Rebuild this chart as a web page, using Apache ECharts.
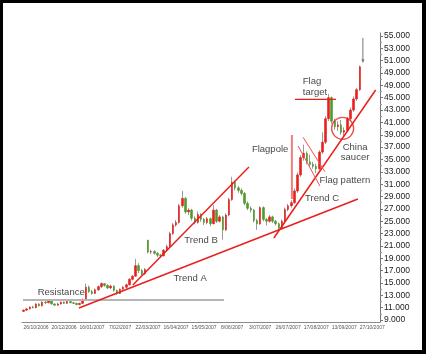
<!DOCTYPE html>
<html>
<head>
<meta charset="utf-8">
<script src="https://cdn.jsdelivr.net/npm/echarts@6/dist/echarts.min.js"></script>
<style>
  html, body { margin: 0; padding: 0; background: #fff; }
  #chart { position: absolute; left: 0; top: 0; width: 426px; height: 354px; }
  #frame { position: absolute; left: 0; top: 0; width: 426px; height: 354px; box-sizing: border-box;
           border: 3px solid #000; border-right-width: 4px; border-bottom-width: 4px; pointer-events: none; }
</style>
</head>
<body>
<div id="chart"></div>
<div id="frame"></div>
<script>
// price data in thousands, one candle per slot
const opens  = [10.4,10.6,10.8,11.1,11.0,11.6,11.3,11.9,11.8,12.1,11.6,11.4,11.6,11.9,11.7,12.0,11.8,11.7,11.5,11.7,
                12.3,14.3,13.6,13.3,13.9,14.4,14.9,14.6,14.2,14.5,13.8,13.3,14.0,14.3,14.7,15.6,16.1,17.8,17.0,16.5,
                21.9,20.0,20.1,19.8,19.5,19.4,20.3,20.9,23.0,24.4,24.8,27.5,28.7,26.5,26.8,25.5,24.8,26.1,25.3,24.8,
                25.4,24.6,26.8,25.0,25.7,23.6,26.0,28.5,31.3,30.4,30.0,29.5,27.9,27.1,26.8,25.1,24.6,27.2,25.3,25.0,
                25.7,25.0,24.6,23.9,25.0,26.9,27.5,28.0,29.9,32.5,35.3,36.0,34.6,34.2,33.9,33.5,36.2,37.8,41.6,45.0,
                41.2,40.3,40.6,39.4,39.7,41.6,43.0,44.8,46.3]
const closes = [10.6,10.8,11.1,11.0,11.6,11.3,11.9,11.8,12.1,11.6,11.4,11.6,11.9,11.7,12.0,11.8,11.7,11.5,11.7,12.3,
                14.3,13.6,13.3,13.9,14.4,14.9,14.6,14.2,14.5,13.8,13.3,14.0,14.3,14.7,15.6,16.1,17.8,17.0,16.5,17.2,
                20.0,20.1,19.8,19.5,19.4,20.3,20.9,23.0,24.4,24.8,27.5,28.7,26.5,26.8,25.5,24.8,26.1,25.3,24.8,25.4,
                24.6,26.8,25.0,25.7,23.6,26.0,28.5,31.3,30.4,30.0,29.5,27.9,27.1,26.8,25.1,24.6,27.2,25.3,25.0,25.7,
                25.0,24.6,23.9,25.0,26.9,27.5,28.0,29.9,32.5,35.3,36.0,34.6,34.2,33.9,33.5,36.2,37.8,41.6,45.0,41.2,
                40.3,40.6,39.4,39.7,41.6,43.0,44.8,46.3,50.0]
const lows   = [10.3,10.5,10.7,10.9,10.9,11.2,11.2,11.6,11.7,11.5,11.3,11.3,11.5,11.6,11.6,11.7,11.6,11.4,11.4,11.6,
                12.2,13.4,13.1,13.2,13.7,14.2,14.4,14.0,14.0,13.6,13.1,13.2,13.9,14.1,14.6,15.4,16.0,16.6,16.2,16.3,
                19.8,19.7,19.6,19.2,19.1,19.3,20.1,20.8,22.8,24.1,24.6,27.2,26.2,26.0,25.1,24.5,24.6,24.9,24.4,24.5,
                24.2,24.5,24.7,24.8,22.0,23.4,25.8,28.3,30.0,29.6,29.2,27.6,26.8,26.4,24.8,23.6,24.4,25.0,24.3,24.8,
                24.7,24.3,23.6,23.7,24.8,26.6,27.2,27.8,29.6,32.2,34.8,34.2,33.8,33.5,32.8,33.3,35.9,37.5,41.2,40.8,
                39.8,39.6,39.0,38.8,39.4,41.3,42.7,44.5,46.1]
const highs  = [10.7,10.9,11.2,11.3,11.7,11.7,12.0,12.1,12.3,12.2,11.7,11.8,12.0,12.0,12.1,12.1,11.9,11.8,11.8,12.5,
                14.9,14.6,13.9,14.1,14.6,15.1,15.0,14.8,14.7,14.6,13.9,14.1,14.5,14.9,15.8,16.3,18.9,18.2,17.3,17.4,
                22.0,20.4,20.3,20.0,19.7,20.5,21.2,23.3,24.7,25.2,27.8,29.9,28.9,27.1,27.0,25.8,26.6,26.3,25.5,25.7,
                25.6,27.6,27.0,26.0,25.9,26.3,28.8,32.2,31.6,30.7,30.3,29.7,28.2,27.4,27.0,25.4,27.4,27.4,25.5,26.0,
                25.9,25.2,24.8,25.3,27.2,27.8,28.4,30.3,32.9,35.7,37.4,36.3,35.8,34.6,34.3,36.5,39.4,42.0,45.6,45.2,
                41.6,41.2,41.4,40.2,41.9,43.4,45.2,46.6,50.2]

// x axis: one slot per candle plus a few empty slots at the right
const slotCount = 115
const dateLabels = ['26/10/2006','20/12/2006','16/01/2007','7/02/2007','22/03/2007','16/04/2007','15/05/2007',
                    '8/06/2007','3/07/2007','26/07/2007','17/08/2007','13/09/2007','27/10/2007']
const firstLabelSlot = 4
const labelStep = 9

// y axis ticks (thousands) and their printed labels
const yTicks  = [9,11,13,15,17,19,21,23,25,27,29,31,33,35,37,39,41,43,45,47,49,51,53,55]
const yLabels = ['9.000','11.000','13.000','15.000','17.000','19.000','21.000','23.000','25.000','27.000','29.000',
                 '31.000','33.000','35.000','37.000','39.000','41.000','43.000','45.000','49.000','49.000','51.000',
                 '53.000','55.000']
const yMinorTicks = [10,12,14,16,18,20,22,24,26,28,30,32,34,36,38,40,42,44,46,48,50,52,54]

// annotations, in [slot, price] units
const resistance  = [[-0.2, 12.24], [64.4, 12.24]]
const trendA      = [[17.8, 10.94], [107.4, 28.6]]
const trendB      = [[35.1, 14.67], [72.4, 33.78]]
const trendC      = [[80.4, 22.28], [113.1, 46.25]]
const flagpole    = [[86.2, 38.96], [86.2, 28.6]]
const flagUpper   = [[89.8, 38.59], [96.8, 33.02]]
const flagLower   = [[88.2, 37.18], [95.2, 30.70]]
const flagTarget  = [[87.2, 44.74], [100.4, 44.74]]
const saucer      = [102.5, 40.04]
const topArrow    = [[109, 54.7], [109, 50.9]]
const notes = [
  { text: 'Resistance', at: [12.1, 13.45] },
  { text: 'Trend A', at: [53.5, 15.8] },
  { text: 'Trend B', at: [57.0, 21.96] },
  { text: 'Trend C', at: [95.9, 28.76] },
  { text: 'Flagpole', at: [79.2, 36.69] },
  { text: 'Flag pattern', at: [103.2, 31.67] },
  { text: 'China\nsaucer', at: [106.5, 36.16] }
]
const leftNotes = [
  { text: 'Flag\ntarget', at: [89.7, 46.73] }
]

const FONT = "'Liberation Sans', Arial, sans-serif"
const RED = '#e8201c'
const GREEN = '#4e9a2a'
const GRID = { left: 22, right: 46, top: 33, bottom: 32 }
const plotWidth = 426 - GRID.left - GRID.right

const categories = Array.from({ length: slotCount }, (_, i) => String(i))
const wickData = opens.map((o, i) => [o, closes[i], lows[i], highs[i]])
const bodyData = opens.map((o, i) => [o, closes[i], Math.min(o, closes[i]), Math.max(o, closes[i])])

const lineSeries = (data, color, width) => ({
  type: 'line', xAxisIndex: 1, data, symbol: 'none', silent: true, z: 5,
  lineStyle: { color, width }
})

const chart = echarts.init(document.getElementById('chart'))
chart.setOption({
  animation: false,
  backgroundColor: '#fff',
  grid: GRID,
  xAxis: [
    {
      type: 'category',
      data: categories,
      boundaryGap: true,
      axisLine: { onZero: false, lineStyle: { color: '#8a8a8a', width: 1 } },
      axisTick: {
        interval: (i) => i % labelStep === firstLabelSlot,
        length: 2,
        lineStyle: { color: '#8a8a8a' }
      },
      axisLabel: {
        interval: (i) => i % labelStep === firstLabelSlot,
        formatter: (v, i) => dateLabels[(i - firstLabelSlot) / labelStep] || '',
        fontSize: 5,
        fontFamily: FONT,
        color: '#555',
        margin: 3
      },
      splitLine: { show: false }
    },
    { type: 'value', min: -0.5, max: slotCount - 0.5, show: false, axisLine: { onZero: false } }
  ],
  yAxis: [
    {
      type: 'value',
      position: 'right',
      min: 8.68,
      max: 55.48,
      axisLine: { show: true, onZero: false, lineStyle: { color: '#777', width: 1 } },
      axisTick: { show: true, customValues: yTicks, length: 3, lineStyle: { color: '#777' } },
      axisLabel: {
        customValues: yTicks,
        formatter: (v) => yLabels[yTicks.indexOf(Math.round(v))] || '',
        fontSize: 8.5,
        fontFamily: FONT,
        color: '#222',
        margin: 4
      },
      splitLine: { show: false }
    },
    {
      // minor ticks, pushed over onto the right edge of the plot
      type: 'value',
      position: 'left',
      offset: -plotWidth,
      min: 8.68,
      max: 55.48,
      axisLine: { show: false, onZero: false },
      axisTick: { show: true, inside: true, customValues: yMinorTicks, length: 2, lineStyle: { color: '#999' } },
      axisLabel: { show: false },
      splitLine: { show: false }
    }
  ],
  series: [
    {
      type: 'candlestick',
      data: wickData,
      barWidth: 1,
      silent: true,
      itemStyle: { color: '#9a9a9a', color0: '#9a9a9a', borderColor: '#9a9a9a', borderColor0: '#9a9a9a', borderWidth: 1 }
    },
    {
      type: 'candlestick',
      data: bodyData,
      barWidth: 2,
      silent: true,
      itemStyle: { color: RED, color0: GREEN, borderColor: RED, borderColor0: GREEN, borderWidth: 0.6 }
    },
    lineSeries(resistance, '#b5b5b5', 2),
    lineSeries(trendA, RED, 1.5),
    lineSeries(trendB, RED, 1.5),
    lineSeries(trendC, RED, 1.5),
    lineSeries(flagpole, '#f07c7c', 2),
    lineSeries(flagUpper, '#f05050', 1),
    lineSeries(flagLower, '#f05050', 1),
    lineSeries(flagTarget, RED, 1.2),
    {
      type: 'line', xAxisIndex: 1, silent: true, z: 5,
      data: [
        { value: topArrow[0], symbol: 'none' },
        { value: topArrow[1], symbol: 'triangle', symbolRotate: 180, symbolSize: [3, 4] }
      ],
      showSymbol: true,
      lineStyle: { color: '#777', width: 1 },
      itemStyle: { color: '#777' }
    },
    {
      type: 'scatter', xAxisIndex: 1, silent: true, z: 6,
      data: [saucer],
      symbol: 'circle',
      symbolSize: 22,
      itemStyle: { color: 'rgba(0,0,0,0)', borderColor: RED, borderWidth: 1.3 }
    },
    {
      type: 'scatter', xAxisIndex: 1, silent: true, z: 7,
      data: notes.map(n => ({ value: n.at, name: n.text })),
      symbolSize: 0,
      label: {
        show: true, position: 'inside', formatter: (p) => p.name,
        fontSize: 9.5, lineHeight: 10, fontFamily: FONT, color: '#111', align: 'center'
      }
    },
    {
      type: 'scatter', xAxisIndex: 1, silent: true, z: 7,
      data: leftNotes.map(n => ({ value: n.at, name: n.text })),
      symbolSize: 0,
      label: {
        show: true, position: 'right', distance: 0, formatter: (p) => p.name,
        fontSize: 9.5, lineHeight: 11, fontFamily: FONT, color: '#111', align: 'left'
      }
    }
  ]
})
</script>
</body>
</html>
